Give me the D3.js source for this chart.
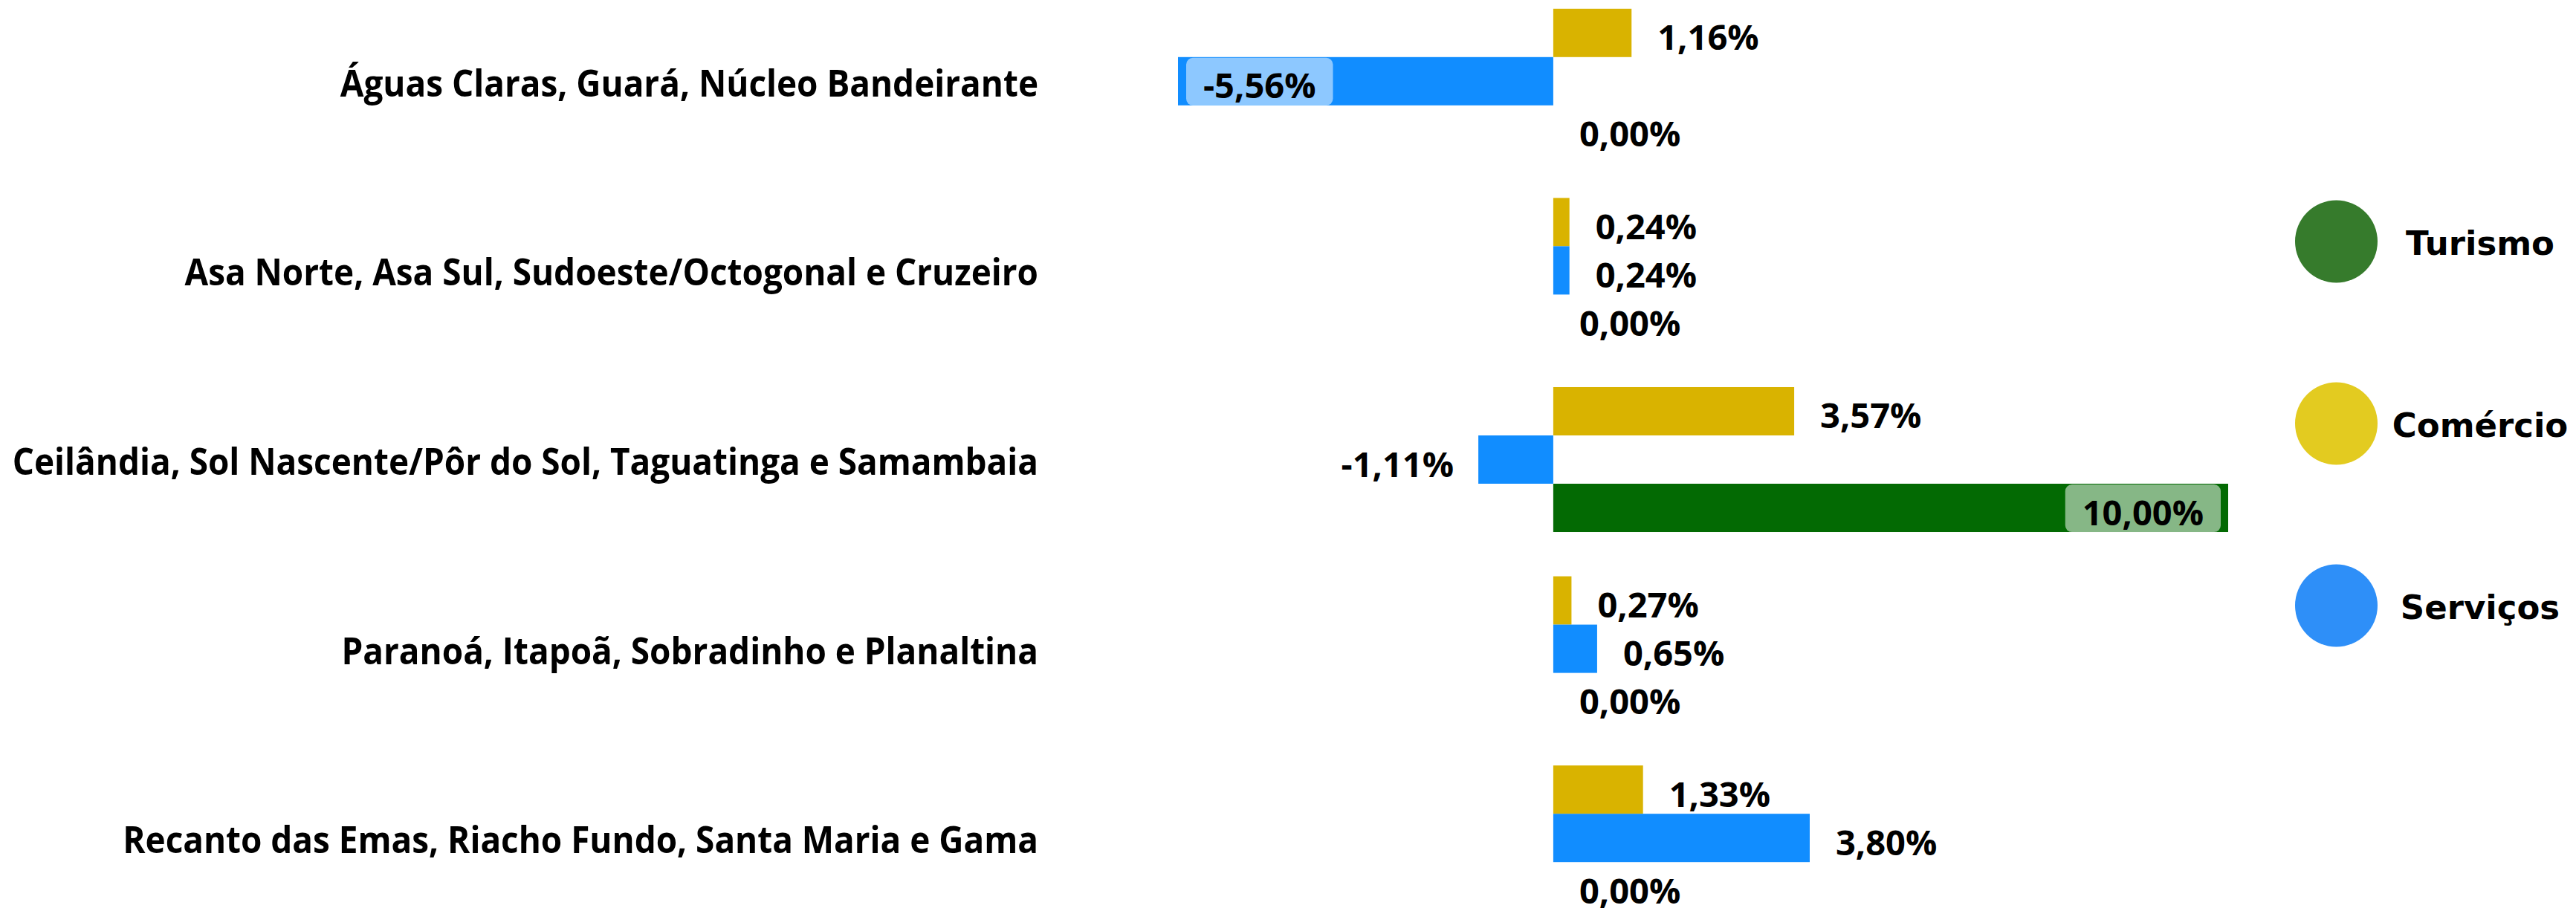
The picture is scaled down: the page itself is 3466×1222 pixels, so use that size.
<!DOCTYPE html>
<html>
<head>
<meta charset="utf-8">
<script src="https://cdn.jsdelivr.net/npm/d3@7"></script>
<style>
  html, body { margin: 0; padding: 0; background: #ffffff; }
  svg { display: block; }
</style>
</head>
<body>
<svg id="chart" width="3466" height="1222"></svg>
<script>
// ---- data ----
const categories = [
  "Águas Claras, Guará, Núcleo Bandeirante",
  "Asa Norte, Asa Sul, Sudoeste/Octogonal e Cruzeiro",
  "Ceilândia, Sol Nascente/Pôr do Sol, Taguatinga e Samambaia",
  "Paranoá, Itapoã, Sobradinho e Planaltina",
  "Recanto das Emas, Riacho Fundo, Santa Maria e Gama"
];
const seriesNames = ["Comércio", "Serviços", "Turismo"];
const comercio = [1.16, 0.24, 3.57, 0.27, 1.33];
const servicos = [-5.56, 0.24, -1.11, 0.65, 3.80];
const turismo  = [0.00, 0.00, 10.00, 0.00, 0.00];
const legendOrder = ["Turismo", "Comércio", "Serviços"];

// ---- styles ----
const barColors = { "Comércio": "#D9B300", "Serviços": "#118DFF", "Turismo": "#036A03" };
const legendColors = { "Turismo": "#367B2C", "Comércio": "#E3CB20", "Serviços": "#2E8FF8" };

const seriesValues = { "Comércio": comercio, "Serviços": servicos, "Turismo": turismo };
const rows = [];
categories.forEach((c, i) => {
  seriesNames.forEach(s => rows.push({ cat: c, series: s, value: seriesValues[s][i] }));
});

const svg = d3.select("#chart");
const allVals = rows.map(d => d.value);
const plotLeft = 1585, plotRight = 2998;
const x = d3.scaleLinear().domain([d3.min(allVals), d3.max(allVals)]).range([plotLeft, plotRight]);
const y = d3.scaleBand().domain(categories).range([-18, 1255]).paddingInner(0.234).paddingOuter(0.117);
const ys = d3.scaleBand().domain(seriesNames).range([0, y.bandwidth()]);

const fmt = v => d3.format(".2f")(v).replace("−", "-").replace(".", ",") + "%";
const valueFont = "'Open Sans', 'Noto Sans', sans-serif";

// category labels (slightly condensed to mimic the original UI font)
svg.append("g").selectAll("text").data(categories).join("text")
  .attr("transform", d => `translate(1397,${y(d) + y.bandwidth() / 2 + 20.5}) scale(0.9,1)`)
  .attr("text-anchor", "end")
  .attr("font-family", valueFont)
  .attr("font-weight", 700)
  .attr("font-size", 51)
  .attr("fill", "#000")
  .text(d => d);

// bars
const bars = svg.append("g");
bars.selectAll("rect").data(rows).join("rect")
  .attr("x", d => x(Math.min(0, d.value)))
  .attr("y", d => y(d.cat) + ys(d.series))
  .attr("width", d => Math.abs(x(d.value) - x(0)))
  .attr("height", ys.bandwidth())
  .attr("fill", d => barColors[d.series]);

// value labels
const labels = svg.append("g");
rows.forEach(d => {
  const cy = y(d.cat) + ys(d.series) + ys.bandwidth() / 2;
  const t = labels.append("text")
    .attr("font-family", valueFont)
    .attr("font-weight", 700)
    .attr("font-size", 47)
    .attr("fill", "#000")
    .attr("y", cy + 23)
    .text(fmt(d.value));
  const w = t.node().getComputedTextLength();
  const xv = x(d.value);
  if (d.value >= 0) {
    if (xv + 35 + w > plotRight) {
      const boxW = w + 46;
      const bx = xv - 10 - boxW;
      labels.insert("rect", "text").attr("x", bx).attr("y", cy - ys.bandwidth() / 2 + 1)
        .attr("width", boxW).attr("height", ys.bandwidth() - 1).attr("rx", 9)
        .attr("fill", "#fff").attr("fill-opacity", 0.52);
      t.attr("x", bx + boxW / 2).attr("text-anchor", "middle");
    } else {
      t.attr("x", xv + 35).attr("text-anchor", "start");
    }
  } else {
    if (xv - 33 - w < plotLeft) {
      const boxW = w + 46;
      const bx = xv + 11;
      labels.insert("rect", "text").attr("x", bx).attr("y", cy - ys.bandwidth() / 2 + 1)
        .attr("width", boxW).attr("height", ys.bandwidth() - 1).attr("rx", 9)
        .attr("fill", "#fff").attr("fill-opacity", 0.52);
      t.attr("x", bx + boxW / 2).attr("text-anchor", "middle");
    } else {
      t.attr("x", xv - 33).attr("text-anchor", "end");
    }
  }
});

// legend
const legendY = d3.scalePoint().domain(legendOrder).range([325, 815]);
const lg = svg.append("g");
lg.selectAll("circle").data(legendOrder).join("circle")
  .attr("cx", 3143.5).attr("cy", d => legendY(d)).attr("r", 55.5)
  .attr("fill", d => legendColors[d]);
lg.selectAll("text").data(legendOrder).join("text")
  .attr("x", 3337).attr("y", d => legendY(d) + 18)
  .attr("text-anchor", "middle")
  .attr("font-family", "'DejaVu Sans', sans-serif")
  .attr("font-weight", 700)
  .attr("font-size", 45)
  .attr("fill", "#000")
  .text(d => d);
</script>
</body>
</html>
